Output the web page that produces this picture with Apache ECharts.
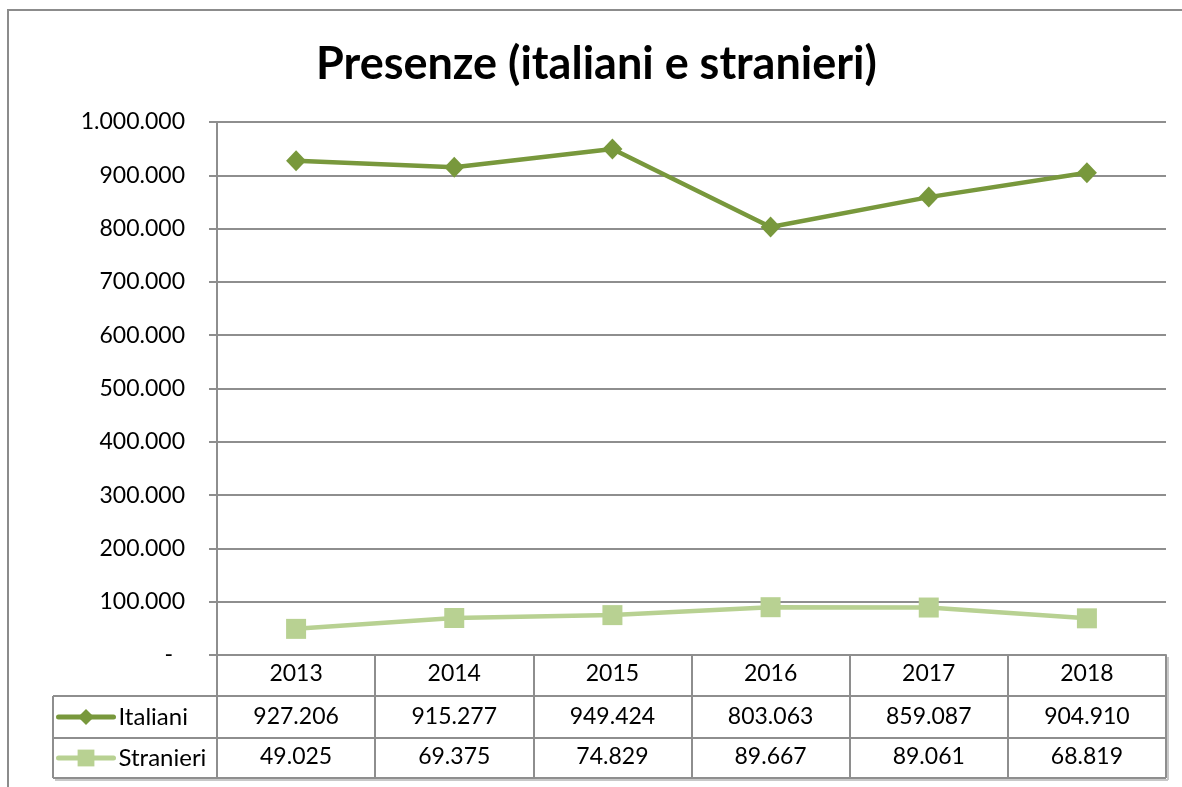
<!DOCTYPE html>
<html>
<head>
<meta charset="utf-8">
<script src="https://cdn.jsdelivr.net/npm/echarts@6/dist/echarts.min.js"></script>
<style>html,body{margin:0;padding:0;background:#fff}#c{width:1182px;height:787px}</style>
</head>
<body>
<div id="c"></div>
<script>
const years = ['2013', '2014', '2015', '2016', '2017', '2018'];
const italiani = [927206, 915277, 949424, 803063, 859087, 904910];
const stranieri = [49025, 69375, 74829, 89667, 89061, 68819];
const yTicks = { min: 0, max: 1000000, interval: 100000 };

function fmt(v) { return String(v).replace(/\B(?=(\d{3})+(?!\d))/g, '.'); }

const FONT = 'Lato';
const FS = 23;
const GRID_COLOR = '#8e8e8e';
const C_IT = '#78983C';
const C_ST = '#B8D192';

const chart = echarts.init(document.getElementById('c'));

const tableLine = (x1, y1, x2, y2) => ({
  type: 'line', shape: { x1, y1, x2, y2 },
  style: { stroke: GRID_COLOR, lineWidth: 2 }, silent: true
});

const baseX = {
  type: 'category', data: years, position: 'bottom', boundaryGap: true,
  axisLine: { show: false }, axisTick: { show: false }, splitLine: { show: false }
};

const legendText = { fontFamily: FONT, fontSize: FS + 1, color: '#000' };

chart.setOption({
  animation: false,
  title: {
    text: 'Presenze (italiani e stranieri)',
    left: 316, top: 42, padding: 0,
    textStyle: { fontFamily: FONT, fontWeight: 'bold', fontSize: 45, color: '#000' }
  },
  legend: [
    { data: ['Italiani'], orient: 'vertical', left: 56, top: 705, padding: 0, selectedMode: false,
      itemWidth: 55, itemHeight: 20, lineStyle: { width: 5, cap: 'round' },
      textStyle: legendText },
    { data: ['Stranieri'], orient: 'vertical', left: 56, top: 746, padding: 0, selectedMode: false,
      itemWidth: 55, itemHeight: 21, lineStyle: { width: 5, cap: 'round' },
      textStyle: legendText }
  ],
  grid: { left: 217, right: 16, top: 122, bottom: 132, containLabel: false },
  xAxis: [
    Object.assign({}, baseX, {
      axisLine: { show: true, lineStyle: { color: GRID_COLOR, width: 2 } },
      axisTick: { show: true, length: 123, lineStyle: { color: GRID_COLOR, width: 2 } },
      axisLabel: { interval: 0, margin: 19, verticalAlign: 'middle', fontFamily: FONT, fontSize: FS, color: '#000' }
    }),
    Object.assign({}, baseX, {
      axisLabel: { interval: 0, margin: 62, verticalAlign: 'middle', fontFamily: FONT, fontSize: FS, color: '#000',
        formatter: (v, i) => fmt(italiani[i]) }
    }),
    Object.assign({}, baseX, {
      axisLabel: { interval: 0, margin: 102, verticalAlign: 'middle', fontFamily: FONT, fontSize: FS, color: '#000',
        formatter: (v, i) => fmt(stranieri[i]) }
    })
  ],
  yAxis: {
    type: 'value', min: yTicks.min, max: yTicks.max, interval: yTicks.interval,
    axisLine: { show: true, lineStyle: { color: GRID_COLOR, width: 2 } },
    axisTick: { show: true, length: 8, lineStyle: { color: GRID_COLOR, width: 2 } },
    splitLine: { show: true, lineStyle: { color: GRID_COLOR, width: 2 } },
    axisLabel: {
      margin: 32, fontFamily: FONT, fontSize: FS, color: '#000',
      formatter: v => v === 0 ? '{d|-}' : fmt(v),
      rich: { d: { fontFamily: FONT, fontSize: FS, color: '#000', padding: [0, 12, 0, 0] } }
    }
  },
  series: [
    { name: 'Italiani', type: 'line', data: italiani, xAxisIndex: 0,
      symbol: 'diamond', symbolSize: [20, 21],
      lineStyle: { color: C_IT, width: 4.5 }, itemStyle: { color: C_IT } },
    { name: 'Stranieri', type: 'line', data: stranieri, xAxisIndex: 0,
      symbol: 'rect', symbolSize: 20,
      lineStyle: { color: C_ST, width: 4.5 }, itemStyle: { color: C_ST } }
  ],
  graphic: [
    { type: 'rect', shape: { x: 8, y: 10, width: 1200, height: 800 },
      style: { fill: 'none', stroke: '#8c8c8c', lineWidth: 2 }, silent: true, z: -10 },
    tableLine(53, 696, 1166, 696),
    tableLine(53, 738, 1166, 738),
    tableLine(53, 778, 1166, 778),
    tableLine(53, 696, 53, 778),
    { type: 'line', shape: { x1: 1168, y1: 657, x2: 1168, y2: 780 }, style: { stroke: '#c8c8c8', lineWidth: 2 }, silent: true },
    { type: 'line', shape: { x1: 55, y1: 780, x2: 1168, y2: 780 }, style: { stroke: '#c8c8c8', lineWidth: 2 }, silent: true }
  ]
});
</script>
</body>
</html>
